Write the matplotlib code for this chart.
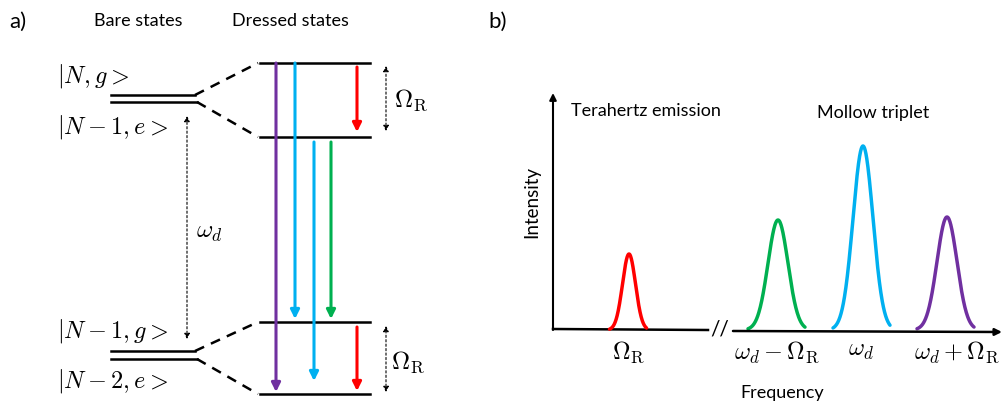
import numpy as np
import matplotlib.pyplot as plt

plt.rcParams['mathtext.fontset'] = 'cm'
plt.rcParams['font.family'] = ['Lato', 'DejaVu Sans']

# panel a: energy levels (pixel rows)
bare_top = [95, 102]
bare_bot = [351, 359]
dressed_y = [63, 137, 322, 394]
bare_labels = [r'$|N,g>$', r'$|N-1,e>$', r'$|N-1,g>$', r'$|N-2,e>$']
bare_label_y = [76, 127, 331, 381]

# transitions: x, start, end, colour
trans_x = [276, 295, 314, 331, 357, 357]
trans_y0 = [63, 63, 142, 142, 67, 327]
trans_y1 = [392, 319, 381, 319, 132, 391]
trans_c = ['#7030A0', '#00B0F0', '#00B0F0', '#00B050', '#FF0000', '#FF0000']

# panel b: spectrum peaks
peak_x = [629, 778, 863, 947]
peak_h = [76, 110, 184, 113]
peak_w = [6.5, 10, 10, 10]
peak_c = ['#FF0000', '#00B050', '#00B0F0', '#7030A0']
peak_labels = [r'$\Omega_{\rm R}$', r'$\omega_d-\Omega_{\rm R}$', r'$\omega_d$', r'$\omega_d+\Omega_{\rm R}$']
label_x = [629, 777, 861, 957]

fig = plt.figure(figsize=(10.03, 4.05), dpi=100)
ax = fig.add_axes([0, 0, 1, 1])
ax.set_xlim(0, 1003)
ax.set_ylim(405, 0)
ax.axis('off')

ax.text(9, 22, 'a)', fontsize=16, va='center')
ax.text(488, 22, 'b)', fontsize=16, va='center')
ax.text(138, 21, 'Bare states', fontsize=13, ha='center', va='center')
ax.text(290, 21, 'Dressed states', fontsize=13, ha='center', va='center')

# bare levels and dashed connectors
for pair, (d0, d1) in [(bare_top, dressed_y[:2]), (bare_bot, dressed_y[2:])]:
    ax.plot([111, 195], [pair[0], pair[0]], color='k', lw=1.8)
    ax.plot([111, 197], [pair[1], pair[1]], color='k', lw=1.8)
    ax.plot([195, 258], [pair[0], d0], color='k', lw=1.8, ls=(0, (4, 3)))
    ax.plot([197, 258], [pair[1], d1], color='k', lw=1.8, ls=(0, (4, 3)))
for y in dressed_y:
    ax.plot([260, 370], [y, y], color='k', lw=1.8)
for lab, y in zip(bare_labels, bare_label_y):
    ax.text(57, y, lab, fontsize=17.5, va='center')

for x, y0, y1, c in zip(trans_x, trans_y0, trans_y1, trans_c):
    ax.annotate('', xy=(x, y1), xytext=(x, y0),
                arrowprops=dict(arrowstyle='-|>', color=c, lw=2.2, mutation_scale=13,
                                shrinkA=0, shrinkB=0))

# dotted double arrows
dot = dict(arrowstyle='<|-|>', color='k', lw=0.8, ls=(0, (2, 2)), mutation_scale=8,
           shrinkA=0, shrinkB=0)
ax.annotate('', xy=(187, 116), xytext=(187, 339), arrowprops=dot)
ax.annotate('', xy=(386, 66), xytext=(386, 131), arrowprops=dot)
ax.annotate('', xy=(386, 326), xytext=(386, 392), arrowprops=dot)
ax.text(196, 233, r'$\omega_d$', fontsize=18, va='center')
ax.text(394, 100, r'$\Omega_{\rm R}$', fontsize=18, va='center')
ax.text(391, 362, r'$\Omega_{\rm R}$', fontsize=18, va='center')

# panel b axes
ax.annotate('', xy=(553, 93), xytext=(553, 330),
            arrowprops=dict(arrowstyle='-|>', color='k', lw=1.5, mutation_scale=10,
                            shrinkA=0, shrinkB=0))
ax.plot([553, 708], [329, 330], color='k', lw=1.8)
ax.annotate('', xy=(1002, 332), xytext=(733, 331),
            arrowprops=dict(arrowstyle='-|>', color='k', lw=1.8, mutation_scale=10,
                            shrinkA=0, shrinkB=0))
ax.text(720, 330, '//', fontsize=15, ha='center', va='center')

base = 330
for x0, h, w, c in zip(peak_x, peak_h, peak_w, peak_c):
    xs = np.linspace(x0 - 3.0 * w, x0 + 2.7 * w, 200)
    ys = base - h * np.exp(-0.5 * ((xs - x0) / w) ** 2)
    ax.plot(xs, ys, color=c, lw=2.5, solid_capstyle='round')
for x0, lab in zip(label_x, peak_labels):
    ax.text(x0, 352, lab, fontsize=17.5, ha='center', va='center')

ax.text(532, 202, 'Intensity', fontsize=13.5, rotation=90, ha='center', va='center')
ax.text(571, 111, 'Terahertz emission', fontsize=13, va='center')
ax.text(873, 113, 'Mollow triplet', fontsize=13, ha='center', va='center')
ax.text(782, 393, 'Frequency', fontsize=13, ha='center', va='center')

plt.savefig('out.png', dpi=100)
